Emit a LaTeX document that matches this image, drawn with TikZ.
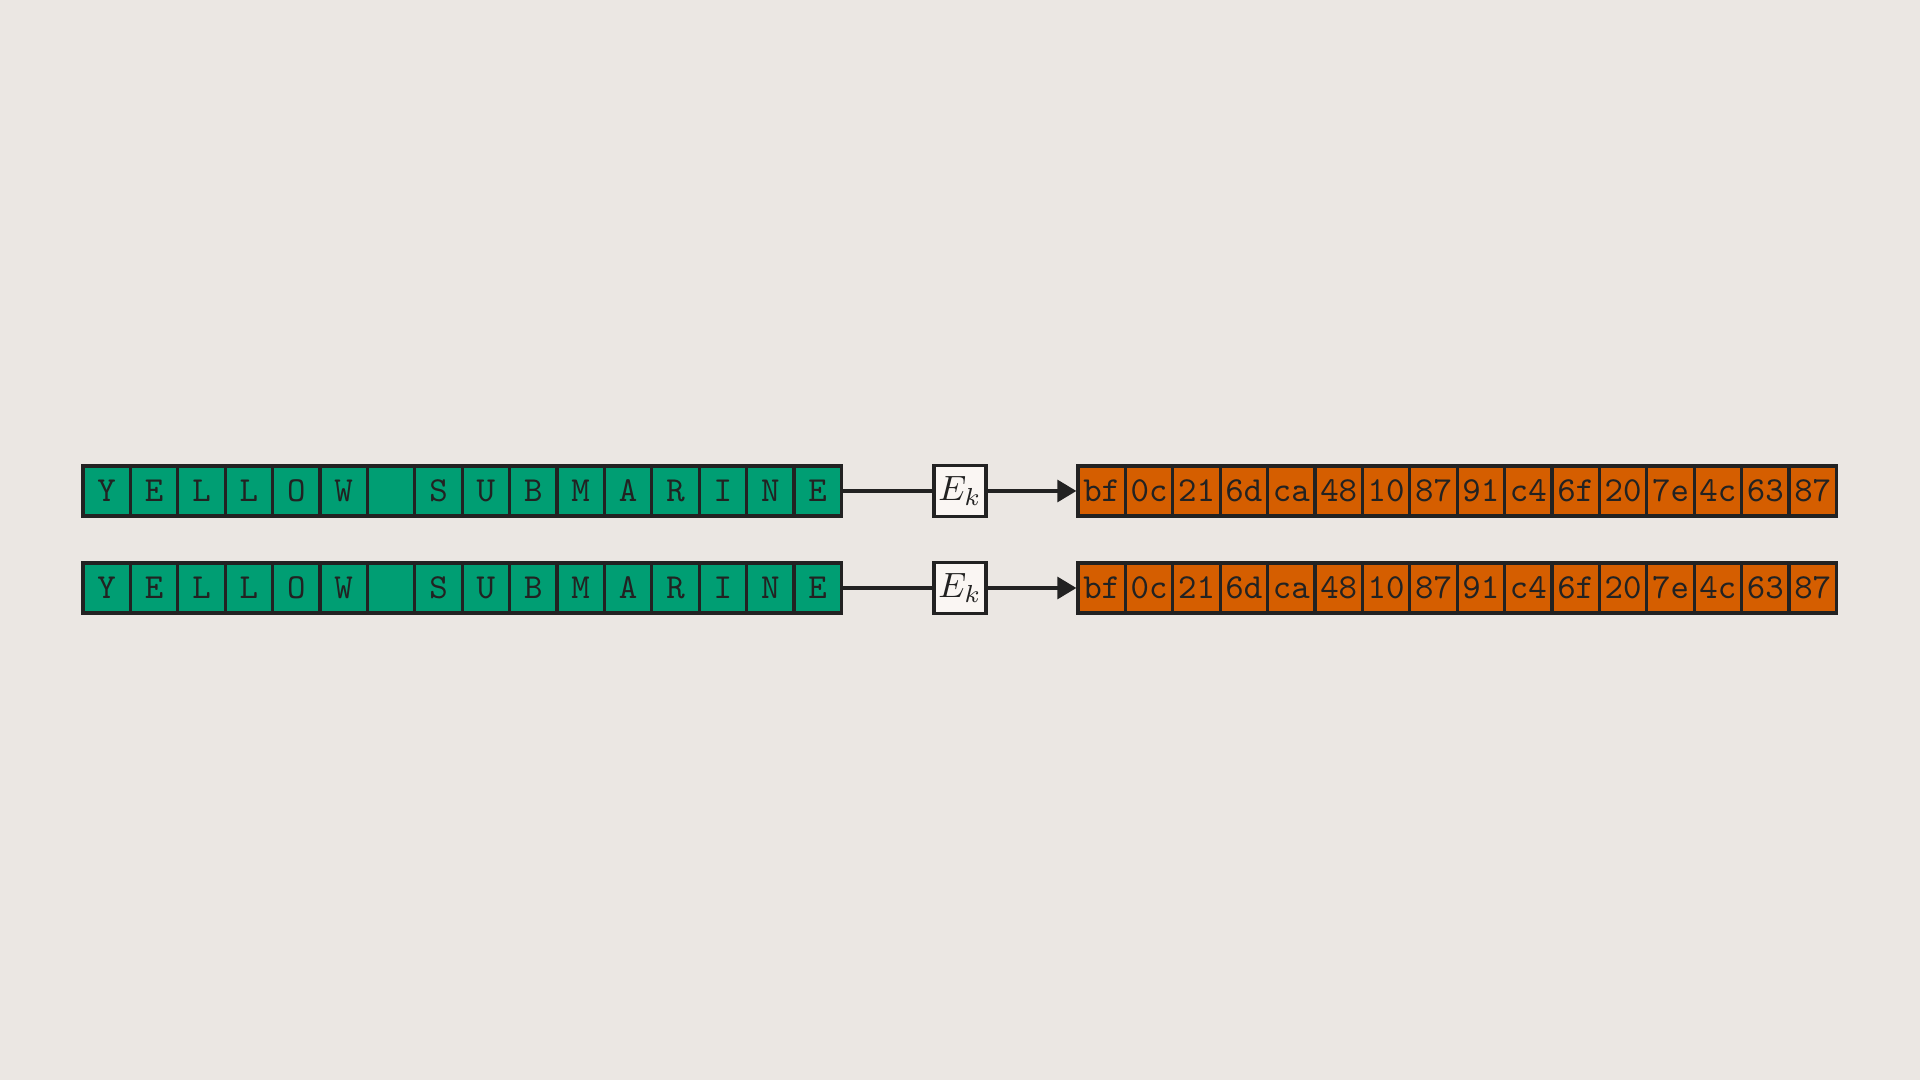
\documentclass[tikz,border=0pt]{standalone}
\usetikzlibrary{arrows.meta,positioning}
\definecolor{bgpaper}{HTML}{EBE7E3}
\definecolor{plaingreen}{HTML}{009E73}
\definecolor{cipherorange}{HTML}{D55E00}
\definecolor{inkdark}{HTML}{222222}
\definecolor{boxwhite}{HTML}{FAF6F3}
\tikzset{
  >={Triangle[length=1.9mm,width=2.2mm]},
  every picture/.append style={line width=0.9pt},
}
\tikzset{
  cell/.style={draw=inkdark, line width=0.95pt, minimum width=4.74mm, minimum height=5mm, inner sep=0pt, text height=6.1pt, text depth=0pt, font=\ttfamily, text=inkdark},
  encbox/.style={draw=inkdark, fill=boxwhite, line width=0.95pt, minimum width=5.2mm, minimum height=5.1mm, inner sep=0pt, text=inkdark},
  link/.style={draw=inkdark, line width=0.9pt}
}
\begin{document}
\begin{tikzpicture}
% Background
\fill[bgpaper] (0,0) rectangle (19.2,10.8);
\useasboundingbox (0,0) rectangle (19.2,10.8);

\foreach \r/\y in {1/5.89, 2/4.92} {
  % Plaintext block
  \foreach \c [count=\i] in {Y,E,L,L,O,W,{},S,U,B,M,A,R,I,N,E}
    \node[cell, fill=plaingreen] (txt\r-\i) at ({1.067+0.474*(\i-1)},\y) {\c};
  % Encryption
  \node[encbox] (enc\r) at (9.6,\y) {$E_k$};
  % Ciphertext block
  \foreach \h [count=\i] in {bf,0c,21,6d,ca,48,10,87,91,c4,6f,20,7e,4c,63,87}
    \node[cell, fill=cipherorange] (ct\r-\i) at ({11.017+0.474*(\i-1)},\y) {\h};
  % Arrows
  \draw[link] (txt\r-16) -- (enc\r);
  \draw[link, ->] (enc\r) -- (ct\r-1);
}

\end{tikzpicture}
\end{document}
